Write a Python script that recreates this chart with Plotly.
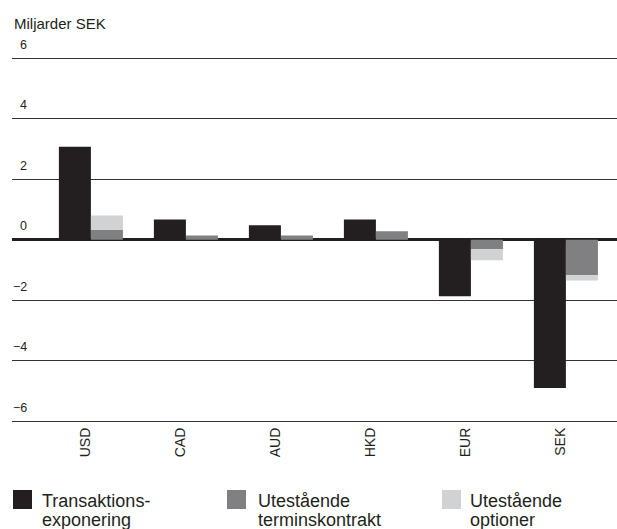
import plotly.graph_objects as go

# Currency exposure, billions of SEK
currencies = ["USD", "CAD", "AUD", "HKD", "EUR", "SEK"]
transaktionsexponering = [3.07, 0.67, 0.48, 0.67, -1.87, -4.91]
terminskontrakt = [0.32, 0.14, 0.14, 0.28, -0.32, -1.18]
optioner = [0.48, 0.0, 0.0, 0.0, -0.36, -0.17]

y_ticks = [6, 4, 2, 0, -2, -4, -6]
legend_names = ["Transaktions-|exponering", "Utestående|terminskontrakt", "Utestående|optioner"]

BLACK = "#231f20"
DARK = "#808083"
LIGHT = "#d1d2d4"
FONT = "Liberation Sans, Arial, sans-serif"

W, H = 617, 529
L, R, T, B = 12, 0, 40, 421          # plot area edges in pixels
BAR_W = 0.337


def px_x(px):
    return (px - L) / (W - R - L)


def px_y(py):
    return (B - py) / (B - T)


fig = go.Figure()
fig.add_trace(go.Bar(x=currencies, y=transaktionsexponering, name=legend_names[0],
                     marker=dict(color=BLACK, line=dict(width=0)),
                     width=BAR_W, offset=-BAR_W))
fig.add_trace(go.Bar(x=currencies, y=terminskontrakt, name=legend_names[1],
                     marker=dict(color=DARK, line=dict(width=0)),
                     width=BAR_W, offset=0))
# options sit on top of the forward contracts
fig.add_trace(go.Bar(x=currencies, y=optioner, base=terminskontrakt, name=legend_names[2],
                     marker=dict(color=LIGHT, line=dict(width=0)),
                     width=BAR_W, offset=0))

annotations = [dict(text="Miljarder SEK", xref="paper", yref="paper",
                    x=px_x(12), y=px_y(23.5), xanchor="left", yanchor="middle",
                    showarrow=False, font=dict(family=FONT, size=15, color=BLACK))]

for v in y_ticks:
    label = str(v) if v >= 0 else "\u2212" + str(-v)
    annotations.append(dict(text=label, xref="paper", yref="y", x=px_x(28.5), y=v,
                            xanchor="right", yanchor="middle", yshift=13.5,
                            showarrow=False, font=dict(family=FONT, size=12.5, color=BLACK)))

shapes = []
swatch_left = [13, 227, 442]
text_left = [40, 256, 468]
colors = [BLACK, DARK, LIGHT]
for name, sx, tx, c in zip(legend_names, swatch_left, text_left, colors):
    shapes.append(dict(type="rect", xref="paper", yref="paper",
                       x0=px_x(sx), x1=px_x(sx + 19), y0=px_y(490), y1=px_y(509),
                       fillcolor=c, line=dict(width=0)))
    for i, line in enumerate(name.split("|")):
        annotations.append(dict(text=line, xref="paper", yref="paper",
                                x=px_x(tx), y=px_y(500.5 + i * 19),
                                xanchor="left", yanchor="middle", showarrow=False,
                                font=dict(family=FONT, size=18, color=BLACK)))

fig.update_layout(
    width=W, height=H,
    margin=dict(l=L, r=R, t=T, b=H - B),
    paper_bgcolor="white", plot_bgcolor="white",
    barmode="overlay", showlegend=False,
    font=dict(family=FONT, color=BLACK),
    annotations=annotations, shapes=shapes,
)
fig.update_xaxes(
    range=[-(90.9 - L) / 95.0, (W - R - 90.9) / 95.0],
    showgrid=False, tickangle=-90, ticks="", ticklabelshift=-5,
    tickfont=dict(family=FONT, size=14, color=BLACK),
    showline=True, linecolor="#333333", linewidth=1.3,
)
fig.update_yaxes(
    range=[-6, 6 + (58.3 - T) / 30.22],
    tickvals=y_ticks, showticklabels=False, ticks="",
    showgrid=True, gridcolor="#333333", gridwidth=1.3,
    zeroline=True, zerolinecolor=BLACK, zerolinewidth=3,
)

fig.write_html("out.html")
